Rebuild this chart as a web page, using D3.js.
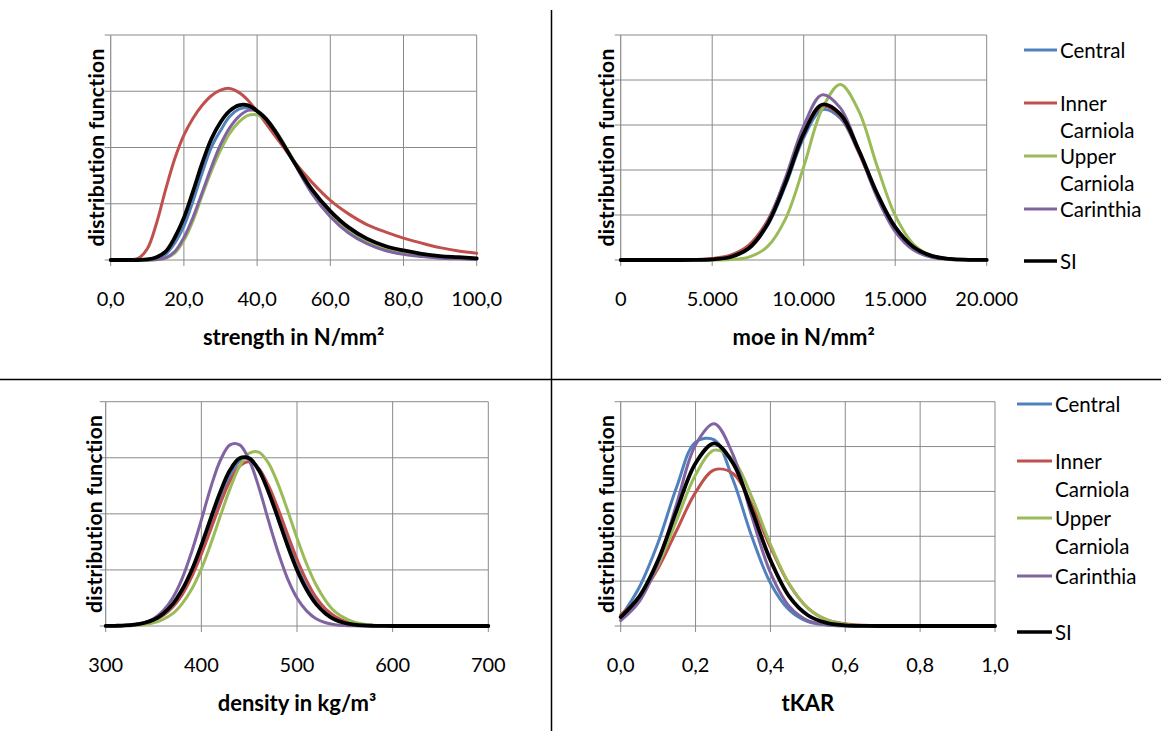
<!DOCTYPE html>
<html>
<head>
<meta charset="utf-8">
<script src="https://cdn.jsdelivr.net/npm/d3@7"></script>
<style>
  html, body { margin: 0; padding: 0; background: #ffffff; }
  svg { display: block; }
</style>
</head>
<body>
<svg id="chart" width="1161" height="731"></svg>
<script>
// ---------------- DATA ----------------
const seriesNames = ["Central", "Inner Carniola", "Upper Carniola", "Carinthia", "SI"];

// strength in N/mm²
const strengthX = [0,5,7.5,10,12.5,15,17.5,20,22.5,25,27.5,30,32.5,35,37.5,40,42.5,45,47.5,50,55,60,65,70,75,80,85,90,95,100];
const strengthCentral   = [0,0,0,0,0.03,0.1,0.3,0.6,1.05,1.55,2.0,2.3,2.55,2.68,2.71,2.65,2.5,2.3,2.04,1.76,1.22,0.84,0.55,0.35,0.22,0.14,0.08,0.05,0.03,0.02];
const strengthInner     = [0,0,0.03,0.2,0.65,1.25,1.8,2.22,2.52,2.75,2.92,3.02,3.05,2.98,2.84,2.64,2.42,2.2,1.98,1.76,1.38,1.06,0.82,0.63,0.5,0.39,0.3,0.22,0.16,0.12];
const strengthUpper     = [0,0,0,0,0.005,0.03,0.12,0.35,0.7,1.15,1.58,1.95,2.25,2.45,2.57,2.58,2.48,2.3,2.05,1.77,1.22,0.8,0.51,0.32,0.2,0.12,0.07,0.04,0.03,0.02];
const strengthCarinthia = [0,0,0,0,0.008,0.04,0.15,0.4,0.76,1.2,1.65,2.05,2.35,2.55,2.66,2.65,2.52,2.3,2.03,1.74,1.18,0.77,0.48,0.29,0.17,0.1,0.06,0.03,0.02,0.01];
const strengthSI        = [0,0,0,0.01,0.05,0.15,0.4,0.75,1.22,1.72,2.15,2.45,2.65,2.75,2.75,2.65,2.5,2.28,2.02,1.75,1.25,0.87,0.58,0.38,0.25,0.17,0.11,0.07,0.05,0.03];
const strengthTicks = [0,20,40,60,80,100];
const strengthTickLabels = ["0,0","20,0","40,0","60,0","80,0","100,0"];

// moe in N/mm²
const moeX = [0,1000,2000,3000,4000,5000,6000,7000,8000,9000,10000,11000,12000,13000,14000,15000,16000,17000,18000,19000,20000];
const moeCentral   = [0,0,0,0,0.002,0.013,0.065,0.25,0.75,1.65,2.72,3.34,3.15,2.4,1.48,0.74,0.3,0.095,0.025,0.005,0.001];
const moeInner     = [0,0,0,0.003,0.01,0.035,0.11,0.33,0.86,1.78,2.82,3.41,3.2,2.4,1.45,0.7,0.27,0.085,0.022,0.005,0.001];
const moeUpper     = [0,0,0,0,0,0.001,0.011,0.065,0.29,0.91,2.07,3.35,3.9,3.32,2.1,0.99,0.35,0.092,0.018,0.003,0];
const moeCarinthia = [0,0,0,0,0.002,0.013,0.07,0.27,0.82,1.82,2.98,3.67,3.38,2.45,1.4,0.63,0.22,0.06,0.013,0.002,0];
const moeSI        = [0,0,0,0,0.002,0.013,0.067,0.26,0.78,1.71,2.81,3.45,3.24,2.45,1.49,0.73,0.29,0.091,0.023,0.005,0.001];
const moeTicks = [0,5000,10000,15000,20000];
const moeTickLabels = ["0","5.000","10.000","15.000","20.000"];

// density in kg/m³
const densityX = [300,310,320,330,340,350,360,370,380,390,400,410,420,430,440,450,460,470,480,490,500,510,520,530,540,550,560,570,580,590,600,650,700];
const densityCentral   = [0.001,0.003,0.008,0.02,0.046,0.1,0.19,0.34,0.58,0.91,1.33,1.81,2.29,2.69,2.94,2.98,2.81,2.46,2.01,1.52,1.07,0.7,0.43,0.24,0.13,0.062,0.028,0.012,0.005,0.002,0.001,0,0];
const densityInner     = [0.0014,0.0036,0.0094,0.022,0.048,0.097,0.19,0.34,0.56,0.88,1.28,1.73,2.19,2.59,2.85,2.93,2.81,2.51,2.1,1.64,1.19,0.81,0.51,0.3,0.17,0.086,0.041,0.018,0.008,0.003,0.001,0,0];
const densityUpper     = [0.0005,0.0015,0.004,0.011,0.026,0.057,0.12,0.22,0.4,0.66,1.02,1.47,1.97,2.45,2.85,3.08,3.1,2.91,2.54,2.07,1.57,1.11,0.73,0.45,0.25,0.14,0.067,0.031,0.013,0.005,0.002,0,0];
const densityCarinthia = [0.001,0.003,0.009,0.024,0.059,0.13,0.27,0.5,0.85,1.33,1.89,2.48,2.96,3.23,3.23,2.96,2.48,1.89,1.33,0.85,0.5,0.27,0.13,0.059,0.024,0.009,0.003,0.001,0,0,0,0,0];
const densitySI        = [0.001,0.004,0.01,0.024,0.054,0.11,0.22,0.39,0.65,1.0,1.44,1.93,2.4,2.78,2.99,2.99,2.78,2.4,1.93,1.44,1.0,0.65,0.39,0.22,0.11,0.054,0.024,0.01,0.004,0.001,0,0,0];
const densityTicks = [300,400,500,600,700];
const densityTickLabels = ["300","400","500","600","700"];

// tKAR
const tkarX = [0,0.05,0.1,0.15,0.2,0.25,0.3,0.35,0.4,0.45,0.5,0.55,0.6,0.65,0.7,0.75,0.8,0.85,0.9,0.95,1.0];
const tkarCentral   = [0.2,0.87,1.86,3.11,4.1,4.15,3.26,2.0,0.96,0.36,0.1,0.024,0.004,0,0,0,0,0,0,0,0];
const tkarInner     = [0.25,0.66,1.29,2.14,2.98,3.48,3.4,2.71,1.76,0.93,0.4,0.14,0.05,0.015,0.005,0,0,0,0,0,0];
const tkarUpper     = [0.15,0.64,1.36,2.37,3.37,3.92,3.71,2.88,1.82,0.94,0.4,0.14,0.038,0.009,0.002,0,0,0,0,0,0];
const tkarCarinthia = [0.12,0.55,1.41,2.74,4.04,4.51,3.82,2.45,1.19,0.44,0.12,0.026,0.004,0,0,0,0,0,0,0,0];
const tkarSI        = [0.2,0.66,1.47,2.59,3.63,4.07,3.63,2.59,1.47,0.66,0.24,0.069,0.016,0.003,0,0,0,0,0,0,0];
const tkarTicks = [0,0.2,0.4,0.6,0.8,1.0];
const tkarTickLabels = ["0,0","0,2","0,4","0,6","0,8","1,0"];

// ---------------- STYLE ----------------
const colors = ["#4F81BD", "#C0504D", "#9BBB59", "#8064A2", "#000000"];
const widths = [3, 3, 3, 3, 3.8];
const GRID = "#8a8a8a";
const FONT = "Lato, 'Open Sans', 'DejaVu Sans', sans-serif";

const svg = d3.select("#chart");

function drawPanel(cfg) {
  const x = d3.scaleLinear().domain(cfg.xDomain).range([cfg.x0, cfg.x1]);
  const y = d3.scaleLinear().domain([0, cfg.yMax]).range([cfg.yBot, cfg.yTop]);
  const g = svg.append("g");

  // horizontal gridlines
  g.selectAll(".hg").data(d3.range(1, cfg.yMax + 1)).join("line")
    .attr("x1", cfg.x0).attr("x2", cfg.x1)
    .attr("y1", d => y(d)).attr("y2", d => y(d))
    .attr("stroke", GRID).attr("stroke-width", 1);
  // vertical gridlines
  g.selectAll(".vg").data(cfg.xTicks.slice(1)).join("line")
    .attr("x1", d => x(d)).attr("x2", d => x(d))
    .attr("y1", cfg.yTop).attr("y2", cfg.yBot)
    .attr("stroke", GRID).attr("stroke-width", 1);
  // axes
  g.append("line").attr("x1", cfg.x0).attr("x2", cfg.x1).attr("y1", cfg.yBot).attr("y2", cfg.yBot)
    .attr("stroke", GRID).attr("stroke-width", 1.2);
  g.append("line").attr("x1", cfg.x0).attr("x2", cfg.x0).attr("y1", cfg.yTop).attr("y2", cfg.yBot)
    .attr("stroke", GRID).attr("stroke-width", 1.2);
  // tick marks
  g.selectAll(".xt").data(cfg.xTicks).join("line")
    .attr("x1", d => x(d)).attr("x2", d => x(d))
    .attr("y1", cfg.yBot).attr("y2", cfg.yBot + 6)
    .attr("stroke", GRID).attr("stroke-width", 1);
  g.selectAll(".yt").data(d3.range(0, cfg.yMax + 1)).join("line")
    .attr("x1", cfg.x0 - 6).attr("x2", cfg.x0)
    .attr("y1", d => y(d)).attr("y2", d => y(d))
    .attr("stroke", GRID).attr("stroke-width", 1);
  // tick labels
  g.selectAll(".xl").data(cfg.xTicks).join("text")
    .attr("x", d => x(d)).attr("y", cfg.yBot + 46)
    .attr("text-anchor", "middle")
    .attr("font-family", FONT).attr("font-size", 20).attr("fill", "#000")
    .text((d, i) => cfg.xLabels[i]);
  // x title
  g.append("text")
    .attr("x", (cfg.x0 + cfg.x1) / 2).attr("y", cfg.yBot + 85)
    .attr("text-anchor", "middle")
    .attr("font-family", FONT).attr("font-size", 22).attr("font-weight", "bold")
    .text(cfg.xTitle);
  // y title
  const cy = (cfg.yTop + cfg.yBot) / 2;
  g.append("text")
    .attr("transform", `translate(${cfg.yLabelX},${cy}) rotate(-90)`)
    .attr("text-anchor", "middle").attr("dominant-baseline", "central")
    .attr("font-family", FONT).attr("font-size", 21).attr("font-weight", "bold")
    .attr("letter-spacing", 0.3)
    .text("distribution function");

  // curves
  const line = d3.line()
    .x(d => x(d[0])).y(d => y(Math.max(0, d[1])))
    .curve(d3.curveCatmullRom.alpha(0.5));
  cfg.series.forEach((vals, i) => {
    const pts = cfg.xs.map((xv, k) => [xv, vals[k]]);
    g.append("path").datum(pts)
      .attr("d", line)
      .attr("fill", "none")
      .attr("stroke", colors[i])
      .attr("stroke-width", widths[i])
      .attr("stroke-linejoin", "round")
      .attr("stroke-linecap", "round");
  });
}

drawPanel({
  x0: 110.7, x1: 476.7, yTop: 35, yBot: 260, yMax: 4,
  xDomain: [0, 100], xs: strengthX, xTicks: strengthTicks, xLabels: strengthTickLabels,
  series: [strengthCentral, strengthInner, strengthUpper, strengthCarinthia, strengthSI],
  xTitle: "strength in N/mm²", yLabelX: 95
});
drawPanel({
  x0: 620.7, x1: 986.7, yTop: 35, yBot: 260, yMax: 5,
  xDomain: [0, 20000], xs: moeX, xTicks: moeTicks, xLabels: moeTickLabels,
  series: [moeCentral, moeInner, moeUpper, moeCarinthia, moeSI],
  xTitle: "moe in N/mm²", yLabelX: 605
});
drawPanel({
  x0: 105.7, x1: 488.3, yTop: 401.7, yBot: 626, yMax: 4,
  xDomain: [300, 700], xs: densityX, xTicks: densityTicks, xLabels: densityTickLabels,
  series: [densityCentral, densityInner, densityUpper, densityCarinthia, densitySI],
  xTitle: "density in kg/m³", yLabelX: 93
});
drawPanel({
  x0: 620.7, x1: 995, yTop: 401.7, yBot: 626, yMax: 5,
  xDomain: [0, 1], xs: tkarX, xTicks: tkarTicks, xLabels: tkarTickLabels,
  series: [tkarCentral, tkarInner, tkarUpper, tkarCarinthia, tkarSI],
  xTitle: "tKAR", yLabelX: 605
});

// legends
function drawLegend(lx0, lx1, tx, ys, gap) {
  const g = svg.append("g");
  seriesNames.forEach((name, i) => {
    g.append("line").attr("x1", lx0).attr("x2", lx1).attr("y1", ys[i]).attr("y2", ys[i])
      .attr("stroke", colors[i]).attr("stroke-width", i === 4 ? 3.6 : 3);
    const parts = name.split(" ");
    parts.forEach((p, k) => {
      g.append("text").attr("x", tx).attr("y", ys[i] + k * gap)
        .attr("dominant-baseline", "central")
        .attr("font-family", FONT).attr("font-size", 20.5).attr("fill", "#000")
        .text(p);
    });
  });
}
drawLegend(1024, 1057, 1060, [50, 103, 156, 209, 261], 27);
drawLegend(1017, 1052, 1055, [404, 461, 518, 576, 632], 28);

// divider lines
svg.append("line").attr("x1", 551.5).attr("x2", 551.5).attr("y1", 10).attr("y2", 731)
  .attr("stroke", "#000").attr("stroke-width", 1.5);
svg.append("line").attr("x1", 0).attr("x2", 1161).attr("y1", 379.5).attr("y2", 379.5)
  .attr("stroke", "#000").attr("stroke-width", 1.5);
</script>
</body>
</html>
